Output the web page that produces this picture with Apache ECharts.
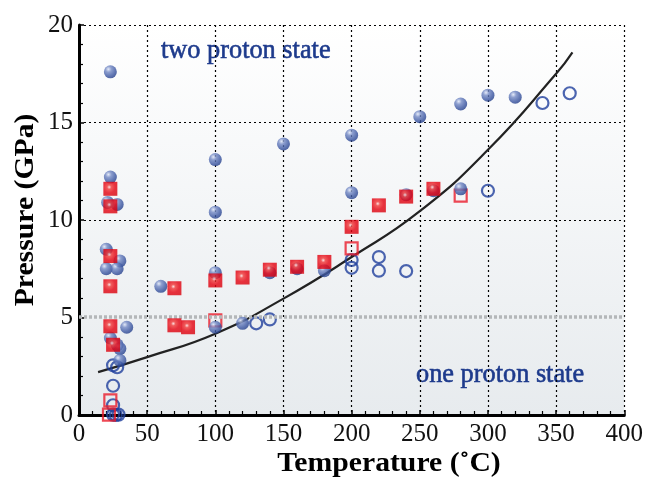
<!DOCTYPE html>
<html>
<head>
<meta charset="utf-8">
<script src="https://cdn.jsdelivr.net/npm/echarts@6/dist/echarts.min.js"></script>
<style>
  html, body { margin: 0; padding: 0; background: #fff; }
  #chart { width: 646px; height: 479px; }
</style>
</head>
<body>
<div id="chart"></div>
<script>
// two proton state (filled blue spheres)
const blueFilled = [
  [23, 17.6], [23, 12.2], [21, 10.9], [28, 10.8], [20, 8.5], [30, 7.9], [20, 7.5], [28, 7.5],
  [35, 4.5], [23, 3.95], [28, 3.6], [30, 3.4], [30, 2.8], [60, 6.6], [100, 7.3], [100, 4.5],
  [120, 4.7], [140, 7.3], [160, 7.5], [180, 7.4], [200, 11.4], [240, 11.3], [260, 11.5],
  [280, 11.6], [250, 15.3], [280, 15.95], [300, 16.4], [320, 16.3], [200, 14.35],
  [100, 13.1], [100, 10.4], [150, 13.9]
];
// filled red squares
const redFilled = [
  [23, 11.6], [23, 10.7], [23, 8.15], [23, 6.6], [23, 4.55], [25, 3.6], [70, 6.5], [100, 6.9],
  [120, 7.05], [140, 7.45], [160, 7.6], [70, 4.6], [80, 4.5], [180, 7.85], [200, 9.65],
  [220, 10.75], [240, 11.2], [260, 11.6]
];
// open red squares
const redOpen = [[23, 0.75], [22, 0.02], [100, 4.85], [200, 8.55], [280, 11.25]];
// one proton state (open blue circles)
const blueOpen = [
  [25, 2.55], [28, 2.45], [25, 1.5], [25, 0.5], [25, 0.02], [27, 0.0], [29, 0.02],
  [130, 4.7], [140, 4.9], [200, 7.95], [200, 7.55], [220, 8.1], [220, 7.4], [240, 7.38],
  [300, 11.5], [340, 16.0], [360, 16.5]
];
// boundary curve
const curveT = [14, 50, 100, 150, 200, 250, 300, 350, 362];
const curveP = [2.2, 2.97, 4.17, 5.97, 8.1, 10.45, 13.6, 17.5, 18.6];

const xTicks = [0, 50, 100, 150, 200, 250, 300, 350, 400];
const yTicks = [0, 5, 10, 15, 20];

const serif = '"Liberation Serif", "Times New Roman", serif';

const chart = echarts.init(document.getElementById('chart'));

const sphere = {
  type: 'radial', x: 0.35, y: 0.3, r: 0.75,
  colorStops: [
    { offset: 0, color: '#dfe6f8' },
    { offset: 0.3, color: '#7288c4' },
    { offset: 0.7, color: '#3d58a3' },
    { offset: 1, color: '#213c88' }
  ]
};
const redBox = {
  type: 'radial', x: 0.42, y: 0.38, r: 0.7,
  colorStops: [
    { offset: 0, color: '#ffdcdc' },
    { offset: 0.22, color: '#f03535' },
    { offset: 0.6, color: '#e5000f' },
    { offset: 1, color: '#d9000b' }
  ]
};

const option = {
  animation: false,
  backgroundColor: '#fff',
  grid: {
    left: 79, right: 21, top: 25, bottom: 64,
    show: true,
    borderWidth: 0,
    backgroundColor: {
      type: 'linear', x: 0, y: 0, x2: 0, y2: 1,
      colorStops: [
        { offset: 0, color: '#ffffff' },
        { offset: 1, color: '#e7ebee' }
      ]
    }
  },
  xAxis: {
    type: 'value', min: 0, max: 400, interval: 50,
    axisLine: { show: true, onZero: false, lineStyle: { color: '#000', width: 3 } },
    axisTick: { show: true, inside: true, length: 5, lineStyle: { color: '#000', width: 1.5 } },
    minorTick: { show: true, splitNumber: 5, length: 4, lineStyle: { color: '#000', width: 1.2 } },
    axisLabel: {
      margin: 7, color: '#111', fontFamily: serif, fontSize: 25,
      formatter: v => xTicks.includes(v) ? String(v) : ''
    },
    splitLine: { show: true, lineStyle: { color: '#000', type: [2, 3], width: 1.2 } }
  },
  yAxis: {
    type: 'value', min: 0, max: 20, interval: 5,
    axisLine: { show: true, onZero: false, lineStyle: { color: '#000', width: 3 } },
    axisTick: { show: true, inside: true, length: 5, lineStyle: { color: '#000', width: 1.5 } },
    minorTick: { show: true, splitNumber: 5, length: 4, lineStyle: { color: '#000', width: 1.2 } },
    axisLabel: {
      margin: 6, color: '#111', fontFamily: serif, fontSize: 25,
      formatter: v => yTicks.includes(v) ? String(v) : ''
    },
    splitLine: {
      show: true,
      lineStyle: { color: ['#000', 'rgba(0,0,0,0)', '#000', '#000', '#000'], type: [2, 3], width: 1.2 }
    }
  },
  series: [
    {
      type: 'line',
      data: curveT.map((t, i) => [t, curveP[i]]),
      smooth: true,
      showSymbol: false,
      lineStyle: { color: '#222', width: 2.2 },
      z: 3,
      markLine: {
        silent: true,
        symbol: ['none', 'none'],
        label: { show: false },
        lineStyle: { color: '#b4b7b9', type: [3, 2], width: 3.5 },
        data: [{ yAxis: 5.05 }]
      }
    },
    {
      type: 'scatter', data: blueOpen, symbol: 'circle', symbolSize: 12,
      itemStyle: { color: 'rgba(0,0,0,0)', borderColor: '#1f3f9c', borderWidth: 2.2 }, z: 4
    },
    {
      type: 'scatter', data: redOpen, symbol: 'rect', symbolSize: 12,
      itemStyle: { color: 'rgba(0,0,0,0)', borderColor: '#ea1c2a', borderWidth: 2.2 }, z: 4
    },
    {
      type: 'scatter', data: blueFilled, symbol: 'circle', symbolSize: 13,
      itemStyle: { color: sphere }, z: 5
    },
    {
      type: 'scatter', data: redFilled, symbol: 'rect', symbolSize: 14,
      itemStyle: { color: redBox }, z: 6
    }
  ],
  graphic: [
    {
      type: 'text', x: 161, y: 51, scaleX: 0.94,
      style: {
        text: 'two proton state', fill: '#1d3a8c', stroke: '#1d3a8c', lineWidth: 0.6,
        font: '28px ' + serif, verticalAlign: 'middle'
      }
    },
    {
      type: 'text', x: 416, y: 375, scaleX: 0.94,
      style: {
        text: 'one proton state', fill: '#1d3a8c', stroke: '#1d3a8c', lineWidth: 0.6,
        font: '28px ' + serif, verticalAlign: 'middle'
      }
    },
    {
      type: 'text', x: 389, y: 464, scaleX: 1.1,
      style: { text: 'Temperature (˚C)', fill: '#000', font: 'bold 27px ' + serif, align: 'center', verticalAlign: 'middle' }
    },
    {
      type: 'text', x: 26, y: 210, rotation: Math.PI / 2, scaleX: 1.1,
      style: { text: 'Pressure (GPa)', fill: '#000', font: 'bold 27px ' + serif, align: 'center', verticalAlign: 'middle' }
    }
  ]
};

chart.setOption(option);
</script>
</body>
</html>
